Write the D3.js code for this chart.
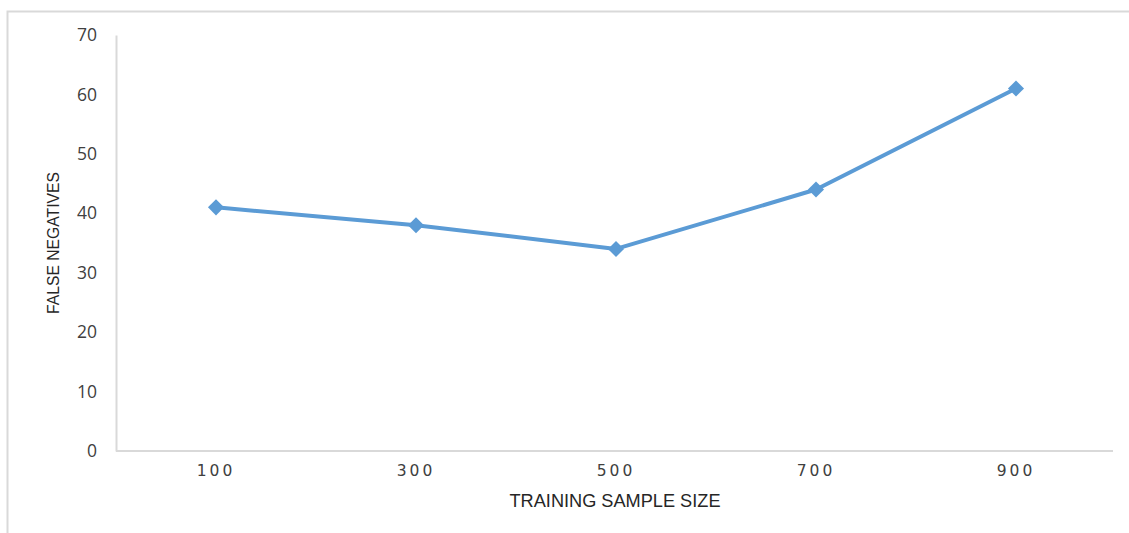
<!DOCTYPE html>
<html>
<head>
<meta charset="utf-8">
<script src="https://cdn.jsdelivr.net/npm/d3@7"></script>
<style>
  html, body { margin: 0; padding: 0; background: #fff; }
  svg { display: block; }
</style>
</head>
<body>
<svg id="chart" width="1129" height="533"></svg>
<script>
// Training sample sizes and the false negatives observed at each
const sampleSizes = ["100", "300", "500", "700", "900"];
const falseNegatives = [41, 38, 34, 44, 61];
const yTicks = [0, 10, 20, 30, 40, 50, 60, 70];

const svg = d3.select("#chart");
const W = 1129, H = 533;
const plot = { left: 116, right: 1116, top: 35, bottom: 451 };
const gridColor = "#d9d9d9";
const lineColor = "#5b9bd5";

// Outer chart frame
svg.append("rect")
  .attr("x", 7.5).attr("y", 11.5)
  .attr("width", W).attr("height", H)
  .attr("fill", "none").attr("stroke", gridColor).attr("stroke-width", 2);

const x = d3.scaleBand().domain(sampleSizes).range([plot.left, plot.right]);
const y = d3.scaleLinear().domain([0, 70]).range([plot.bottom, plot.top]);

// Y axis
const yAxis = svg.append("g")
  .attr("transform", `translate(${plot.left},0)`)
  .call(d3.axisLeft(y).tickValues(yTicks).tickSize(0).tickPadding(19));
yAxis.select(".domain").attr("stroke", gridColor).attr("stroke-width", 2);
yAxis.selectAll("text")
  .attr("font-family", "'Open Sans', sans-serif")
  .attr("font-size", 17.5)
  .attr("fill", "#404040");

// X axis
const xAxis = svg.append("g")
  .attr("transform", `translate(0,${plot.bottom})`)
  .call(d3.axisBottom(x).tickSize(0).tickPadding(14));
xAxis.select(".domain")
  .attr("d", `M${plot.left},0H${plot.right - 3}`)
  .attr("stroke", gridColor).attr("stroke-width", 2);
xAxis.selectAll("text")
  .attr("font-family", "'DejaVu Sans', sans-serif")
  .attr("font-size", 15.5)
  .attr("letter-spacing", "3px")
  .attr("fill", "#404040");

// Axis titles
svg.append("text")
  .attr("x", (plot.left + plot.right) / 2 - 1)
  .attr("y", 506.5)
  .attr("text-anchor", "middle")
  .attr("font-family", "'Liberation Sans Narrow', 'Liberation Sans', sans-serif")
  .attr("font-size", 17.5)
  .attr("textLength", 211)
  .attr("lengthAdjust", "spacingAndGlyphs")
  .attr("fill", "#262626")
  .text("TRAINING SAMPLE SIZE");

svg.append("text")
  .attr("transform", `translate(59,243) rotate(-90)`)
  .attr("text-anchor", "middle")
  .attr("font-family", "'Liberation Sans Narrow', 'Liberation Sans', sans-serif")
  .attr("font-size", 17)
  .attr("textLength", 142)
  .attr("lengthAdjust", "spacingAndGlyphs")
  .attr("fill", "#262626")
  .text("FALSE NEGATIVES");

// Series line and diamond markers
const pts = sampleSizes.map((s, i) => [x(s) + x.bandwidth() / 2, y(falseNegatives[i])]);

svg.append("path")
  .datum(pts)
  .attr("d", d3.line())
  .attr("fill", "none")
  .attr("stroke", lineColor)
  .attr("stroke-width", 4)
  .attr("stroke-linejoin", "round");

svg.selectAll(".marker")
  .data(pts)
  .join("path")
  .attr("class", "marker")
  .attr("transform", d => `translate(${d[0]},${d[1]})`)
  .attr("d", d3.symbol().type(d3.symbolDiamond2).size(165))
  .attr("fill", lineColor);
</script>
</body>
</html>
